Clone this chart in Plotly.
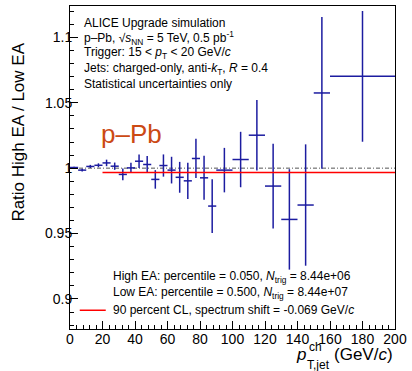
import plotly.graph_objects as go

# bin centres (GeV/c), half-widths, ratio values and stat. errors
pt_center = [2.5, 7.5, 12.5, 17.5, 22.5, 27.5, 32.5, 37.5, 42.5, 47.5, 52.5, 57.5, 62.5,
             67.5, 72.5, 77.5, 82.5, 87.5, 95, 105, 115, 125, 135, 145, 155, 180]
pt_halfwidth = [2.5] * 18 + [5] * 7 + [20]
ratio = [1.0005, 0.9985, 1.0013, 1.0022, 1.004, 1.0015, 0.9952, 1.0002, 1.0053, 1.0028,
         0.9914, 1.002, 0.9985, 0.993, 0.9903, 1.0074, 0.9926, 0.971, 0.9985, 1.0066,
         1.0252, 0.9863, 0.9608, 0.9718, 1.0575, 1.0702]
ratio_err = [0.0005, 0.001, 0.0012, 0.0015, 0.0025, 0.0028, 0.0045, 0.004, 0.0052, 0.0064,
             0.0071, 0.0085, 0.0102, 0.0118, 0.0138, 0.015, 0.0168, 0.0205, 0.017, 0.0212,
             0.027, 0.0324, 0.0384, 0.0464, 0.058, 0.050]

# 90 percent CL line
cl_x = [20, 200]
cl_y = [0.9967, 0.9967]
unity_x = [0, 200]
unity_y = [1, 1]

FONT = "Liberation Sans, Arial, sans-serif"
BLUE = "#1c1ca0"

fig = go.Figure()

fig.add_trace(go.Scatter(
    x=unity_x, y=unity_y, mode="lines",
    line=dict(color="#555555", width=1, dash="4px,2px,1px,2px"),
    hoverinfo="skip", showlegend=False,
))

fig.add_trace(go.Scatter(
    x=pt_center, y=ratio, mode="markers",
    marker=dict(size=1, color=BLUE),
    error_x=dict(type="data", array=pt_halfwidth, width=0, thickness=1.5, color=BLUE),
    error_y=dict(type="data", array=ratio_err, width=0, thickness=1.5, color=BLUE),
    showlegend=False,
))

fig.add_trace(go.Scatter(
    x=cl_x, y=cl_y, mode="lines",
    line=dict(color="#ff0000", width=1.5),
    hoverinfo="skip", showlegend=False,
))


def note(x, y, txt, size=12, xanchor="left", color="black", **kw):
    fig.add_annotation(x=x, y=y, xref="paper", yref="paper", text=txt,
                       showarrow=False, xanchor=xanchor, yanchor="middle",
                       font=dict(family=FONT, size=size, color=color), **kw)


# text block at top left
top_lines = [
    "ALICE Upgrade simulation",
    "p–Pb, √<i>s</i><sub>NN</sub> = 5 TeV, 0.5 pb<sup>-1</sup>",
    "Trigger: 15 < <i>p</i><sub>T</sub> < 20 GeV/<i>c</i>",
    "Jets: charged-only, anti-<i>k</i><sub>T</sub>, <i>R</i> = 0.4",
    "Statistical uncertainties only",
]
top_y = [0.9475, 0.901, 0.853, 0.8055, 0.759]
for txt, yy in zip(top_lines, top_y):
    note(0.036, yy, txt)

note(0.09, 0.605, "p–Pb", size=26, color="#cc4a14")

# bottom legend-like text
bottom_lines = [
    "High EA: percentile = 0.050, <i>N</i><sub>trig</sub> = 8.44e+06",
    "Low EA: percentile = 0.500, <i>N</i><sub>trig</sub> = 8.44e+07",
    "90 percent CL, spectrum shift = -0.069 GeV/<i>c</i>",
]
bottom_y = [0.161, 0.110, 0.058]
for txt, yy in zip(bottom_lines, bottom_y):
    note(0.126, yy, txt)

fig.add_shape(type="line", xref="paper", yref="paper",
              x0=0.03, x1=0.11, y0=0.058, y1=0.058,
              line=dict(color="#ff0000", width=1.5))

# axis titles
note(-0.158, 0.61, "Ratio High EA / Low EA", size=17, xanchor="center", textangle=-90)
note(1.0, -0.08, "(GeV/<i>c</i>)", size=17, xanchor="right")
note(0.733, -0.08, "<i>p</i>", size=17, xanchor="right")
note(0.728, -0.056, "ch", size=12)
note(0.722, -0.112, "T,jet", size=12)

fig.update_xaxes(
    range=[0, 200], tickvals=[0, 20, 40, 60, 80, 100, 120, 140, 160, 180, 200],
    ticks="inside", ticklen=8, tickcolor="black", tickwidth=1,
    minor=dict(dtick=4, ticks="inside", ticklen=4, tickcolor="black"),
    showline=True, linecolor="black", linewidth=1, mirror=True,
    showgrid=False, zeroline=False, ticklabelstandoff=-3,
    tickfont=dict(family=FONT, size=14, color="black"),
)
fig.update_yaxes(
    range=[0.877, 1.124], tickvals=[0.9, 0.95, 1.0, 1.05, 1.1],
    ticktext=["0.9", "0.95", "1", "1.05", "1.1"],
    ticks="inside", ticklen=8, tickcolor="black", tickwidth=1,
    minor=dict(dtick=0.01, ticks="inside", ticklen=4, tickcolor="black"),
    showline=True, linecolor="black", linewidth=1, mirror=True,
    showgrid=False, zeroline=False, ticklabelstandoff=-6,
    tickfont=dict(family=FONT, size=14, color="black"),
)

fig.update_layout(
    width=412, height=371,
    margin=dict(l=70, r=12, t=5, b=42),
    plot_bgcolor="white", paper_bgcolor="white",
    font=dict(family=FONT, color="black"),
)

fig.write_html("out.html", config={"displayModeBar": False},
               post_script="document.body.style.margin='0';")
